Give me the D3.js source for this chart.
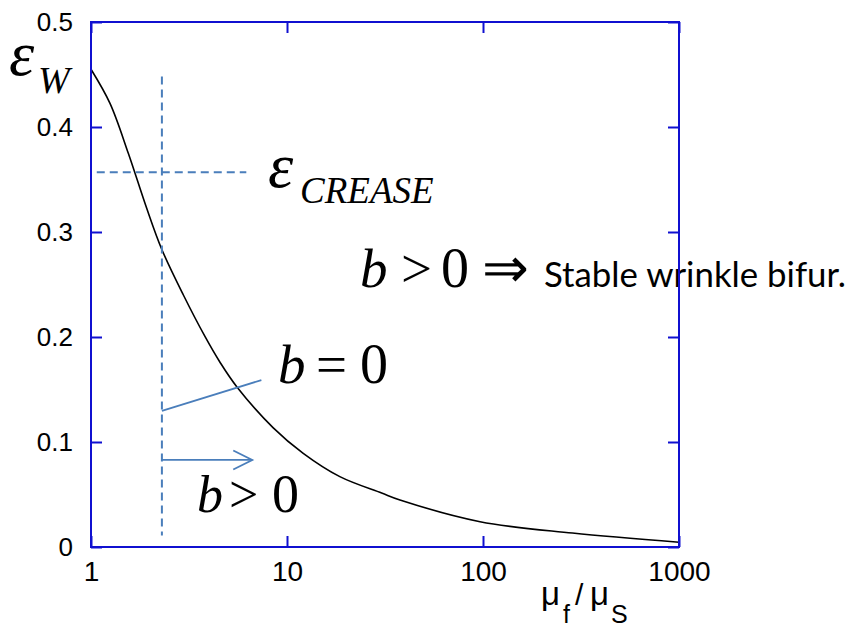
<!DOCTYPE html>
<html>
<head>
<meta charset="utf-8">
<script src="https://cdn.jsdelivr.net/npm/d3@7"></script>
<style>
  html, body { margin: 0; padding: 0; background: #fff; }
  svg { display: block; }
</style>
</head>
<body>
<svg id="chart" width="854" height="628"></svg>
<script>
// ---- data ----
const muRatio = [1, 1.25, 1.55, 1.92, 2.29, 2.96, 3.82, 4.55, 5.54, 8.51, 12.1, 18.6, 30.4, 37.7, 96.6, 286, 1000];
const epsW    = [0.455, 0.4225, 0.375, 0.323, 0.284, 0.240, 0.2003, 0.176, 0.1527, 0.1135, 0.0892, 0.067, 0.0514, 0.0448, 0.0241, 0.0133, 0.0045];
const xTickValues = [1, 10, 100, 1000];
const xTickLabels = ["1", "10", "100", "1000"];
const yTickValues = [0, 0.1, 0.2, 0.3, 0.4, 0.5];
const yTickLabels = ["0", "0.1", "0.2", "0.3", "0.4", "0.5"];
const epsCrease = 0.357;      // horizontal dashed level
const muCrease = 2.3;         // vertical dashed position
const muCreaseH = [1.07, 6.2]; // extent of horizontal dashed line
const epsCreaseV = [0.448, 0.011]; // extent of vertical dashed line
const bZeroLine = [[2.3, 0.1297], [7.4, 0.159]];
const bPosArrow = [[2.3, 0.0829], [6.65, 0.0829]];

const svg = d3.select("#chart");
const x = d3.scaleLog().domain([1, 1000]).range([91, 679]);
const y = d3.scaleLinear().domain([0, 0.5]).range([547, 22]);

const serif = "Liberation Serif, Times New Roman, serif";
const sans = "Liberation Sans, Arial, sans-serif";
const dashBlue = "#4a7ebb";
const axisBlue = "#1010d0";

// ---- curve ----
const pts = muRatio.map((m, i) => [x(m), y(epsW[i])]);
svg.append("path")
  .attr("d", d3.line().curve(d3.curveCatmullRom.alpha(0.5))(pts))
  .attr("fill", "none").attr("stroke", "#000").attr("stroke-width", 1.6);

// ---- dashed lines ----
svg.append("line")
  .attr("x1", x(muCrease)).attr("x2", x(muCrease))
  .attr("y1", y(epsCreaseV[0])).attr("y2", y(epsCreaseV[1]))
  .attr("stroke", dashBlue).attr("stroke-width", 2).attr("stroke-dasharray", "8,5");
svg.append("line")
  .attr("x1", x(muCreaseH[0])).attr("x2", x(muCreaseH[1]))
  .attr("y1", y(epsCrease)).attr("y2", y(epsCrease))
  .attr("stroke", dashBlue).attr("stroke-width", 2).attr("stroke-dasharray", "8,5");

// ---- b=0 pointer line ----
svg.append("line")
  .attr("x1", x(bZeroLine[0][0])).attr("y1", y(bZeroLine[0][1]))
  .attr("x2", x(bZeroLine[1][0])).attr("y2", y(bZeroLine[1][1]))
  .attr("stroke", dashBlue).attr("stroke-width", 1.8);

// ---- b>0 arrow ----
const ax1 = x(bPosArrow[0][0]), ay = y(bPosArrow[0][1]), ax2 = x(bPosArrow[1][0]);
svg.append("line").attr("x1", ax1).attr("x2", ax2).attr("y1", ay).attr("y2", ay)
  .attr("stroke", dashBlue).attr("stroke-width", 1.8);
svg.append("path")
  .attr("d", `M${ax2 - 19},${ay - 9.5} L${ax2},${ay} L${ax2 - 19},${ay + 9.5}`)
  .attr("fill", "none").attr("stroke", dashBlue).attr("stroke-width", 1.8);

// ---- annotation texts ----
function mathText(parts) {
  parts.forEach(p => {
    svg.append("text")
      .attr("x", p.x).attr("y", p.y)
      .style("font-family", p.family || serif)
      .style("font-size", p.size + "px")
      .style("font-style", p.italic ? "italic" : "normal")
      .style("font-weight", p.weight || "normal")
      .attr("fill", "#000")
      .text(p.t);
  });
}
// epsilon_W
mathText([
  {t: "\u03B5", x: 9, y: 75, size: 64, italic: true},
  {t: "W", x: 38, y: 93, size: 38, italic: true}
]);
// epsilon_CREASE
mathText([
  {t: "\u03B5", x: 268, y: 187, size: 64, italic: true},
  {t: "CREASE", x: 300, y: 203, size: 37, italic: true}
]);
// b > 0 => Stable wrinkle bifur.
mathText([
  {t: "b", x: 360, y: 287, size: 55, italic: true},
  {t: ">", x: 401, y: 287, size: 55},
  {t: "0", x: 441, y: 287, size: 56},
  {t: "\u21D2", x: 482, y: 287, size: 56}
]);
svg.append("text")
  .attr("x", 544).attr("y", 287)
  .style("font-family", "Lato, Open Sans, sans-serif")
  .style("font-size", "34px")
  .attr("textLength", 302).attr("lengthAdjust", "spacingAndGlyphs")
  .text("Stable wrinkle bifur.");
// b = 0
mathText([
  {t: "b", x: 278, y: 383, size: 55, italic: true},
  {t: "=", x: 316, y: 383, size: 55},
  {t: "0", x: 360, y: 383, size: 56}
]);
// b > 0 (lower)
mathText([
  {t: "b", x: 197, y: 512, size: 52, italic: true},
  {t: ">", x: 229, y: 512, size: 52},
  {t: "0", x: 272, y: 512, size: 54}
]);

// ---- axes & frame (drawn on top) ----
const gB = svg.append("g").attr("transform", `translate(0,${y(0)})`)
  .call(d3.axisBottom(x).tickValues(xTickValues)
    .tickFormat((d, i) => xTickLabels[i]).tickSizeInner(-11).tickSizeOuter(0).tickPadding(14));
const gT = svg.append("g").attr("transform", `translate(0,${y(0.5)})`)
  .call(d3.axisTop(x).tickValues(xTickValues).tickFormat("").tickSizeInner(-11).tickSizeOuter(0));
const gL = svg.append("g").attr("transform", `translate(${x(1)},0)`)
  .call(d3.axisLeft(y).tickValues(yTickValues)
    .tickFormat((d, i) => yTickLabels[i]).tickSizeInner(-11).tickSizeOuter(0).tickPadding(18));
const gR = svg.append("g").attr("transform", `translate(${x(1000)},0)`)
  .call(d3.axisRight(y).tickValues(yTickValues).tickFormat("").tickSizeInner(-11).tickSizeOuter(0));

[gB, gT, gL, gR].forEach(g => {
  g.attr("font-family", sans);
  g.select(".domain").remove();
  g.selectAll(".tick line").attr("stroke", axisBlue).attr("stroke-width", 2);
  g.selectAll(".tick text").attr("fill", "#000");
});
gB.attr("font-size", 28);
gL.attr("font-size", 26);

svg.append("rect")
  .attr("x", x(1)).attr("y", y(0.5))
  .attr("width", x(1000) - x(1)).attr("height", y(0) - y(0.5))
  .attr("fill", "none").attr("stroke", axisBlue).attr("stroke-width", 2);

// ---- x axis label mu_f / mu_S ----
const xl = svg.append("text").style("font-family", sans).attr("fill", "#000");
xl.append("tspan").attr("x", 541).attr("y", 605).style("font-size", "33px").text("\u03BC");
xl.append("tspan").attr("x", 563).attr("y", 623).style("font-size", "25px").text("f");
xl.append("tspan").attr("x", 575).attr("y", 605).style("font-size", "30px").text("/");
xl.append("tspan").attr("x", 590).attr("y", 605).style("font-size", "33px").text("\u03BC");
xl.append("tspan").attr("x", 611).attr("y", 623).style("font-size", "25px").text("S");
</script>
</body>
</html>
